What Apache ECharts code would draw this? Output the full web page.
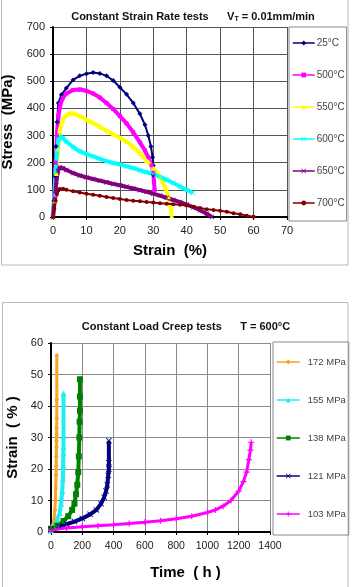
<!DOCTYPE html>
<html>
<head>
<meta charset="utf-8">
<script src="https://cdn.jsdelivr.net/npm/echarts@6/dist/echarts.min.js"></script>
<style>
  html, body { margin: 0; padding: 0; background: #fff; }
  #chart { width: 353px; height: 587px; }
</style>
</head>
<body>
<div id="chart"></div>
<script>
// top chart: stress vs strain, [strain %, stress MPa]
const tempNames = ["25°C", "500°C", "550°C", "600°C", "650°C", "700°C"];
const t25 = [[0,0],[0.3,60],[0.6,150],[0.9,260],[1.2,350],[1.6,420],[2.5,450],[4,475],[6,505],[8,520],[10,528],[12,532],[14,529],[16,520],[18,503],[20,478],[22,452],[24,420],[26,380],[27.5,340],[28.5,300],[29.3,260],[29.8,220],[30,190],[30,155]];
const t500 = [[0,0],[0.4,80],[0.8,200],[1.2,300],[1.6,370],[2.2,415],[3,440],[4,455],[6,468],[8,470],[10,465],[12,455],[14,440],[16,420],[18,398],[20,372],[22,345],[24,312],[26,275],[27.5,245],[28.5,220],[29.5,190],[30,165],[30.2,130],[30.4,100]];
const t550 = [[0,0],[0.5,60],[1,160],[1.5,250],[2,320],[3,360],[4,375],[5,382],[6,382],[8,372],[10,358],[12,346],[14,333],[16,318],[18,305],[20,292],[22,278],[24,258],[26,235],[28,208],[30,180],[32,148],[33.5,110],[34.5,75],[35.3,30],[35.5,5]];
const t600 = [[0,0],[0.4,80],[0.8,170],[1.2,240],[1.6,285],[2,298],[3,290],[4,278],[6,258],[8,242],[10,232],[12,223],[14,214],[16,206],[18,199],[20,194],[22,187],[24,180],[26,172],[28,165],[30,158],[32,148],[34,137],[36,125],[38,112],[40,100],[41.8,88]];
const t650 = [[0,0],[0.5,60],[1,130],[1.5,170],[2,183],[3,180],[4,173],[6,162],[8,153],[10,146],[12,140],[14,134],[16,128],[18,122],[20,117],[22,111],[24,105],[26,99],[28,93],[30,86],[32,79],[34,71],[36,63],[38,55],[40,46],[42,36],[44,25],[46,12],[47.5,0]];
const t700 = [[0,0],[0.4,30],[0.8,60],[1.2,85],[1.6,98],[2,103],[3,104],[4,100],[6,95],[8,90],[10,86],[12,82],[14,78],[16,74],[18,70],[20,66],[22,63],[24,60],[26,58],[28,55],[30,53],[32,51],[34,49],[36,47],[38,45],[40,42],[42,38],[44,33],[46,29],[48,26],[50,23],[52,19],[54,14],[56,10],[58,5],[60,1]];
const strainTicks = [0, 70, 10];
const stressTicks = [0, 700, 100];

// bottom chart: creep strain vs time, [time h, strain %]
const loadNames = ["172 MPa", "155 MPa", "138 MPa", "121 MPa", "103 MPa"];
const c172 = [[0,0.5],[10,2],[20,4],[25,7],[28,10],[30,14],[32,18],[33,21],[34,24],[35,27],[35,29],[36,31],[36,33],[37,36],[37,42],[37,56]];
const c155 = [[0,0.5],[20,2],[40,4],[55,6],[65,9],[72,13],[76,17],[78,21],[79,25],[80,27],[80,30.5],[80,44]];
const c138 = [[0,1],[40,2],[80,3.5],[110,5],[135,7],[150,9],[160,12],[168,15],[174,19],[178,24],[181,30],[183,35],[185,38.5],[185,43],[185,48.5]];
const c121 = [[0,1],[50,1.8],[100,2.5],[150,3.3],[200,4.3],[250,5.6],[290,7],[320,9],[340,11],[352,13],[360,15],[366,18],[370,20],[370,22],[370,29]];
const c103 = [[0,0.5],[50,1],[100,1.3],[200,1.7],[300,2],[400,2.3],[500,2.7],[600,3.1],[700,3.6],[800,4.2],[900,5],[1000,6.2],[1050,7],[1100,8.2],[1150,10],[1200,13],[1230,16],[1250,19],[1265,23],[1275,26],[1280,28.5]];
const timeTicks = [0, 1400, 200];
const creepTicks = [0, 60, 10];

const FONT = "Liberation Sans, Arial, sans-serif";
const X_MARK = "path://M0,1L1,0L5,4L9,0L10,1L6,5L10,9L9,10L5,6L1,10L0,9L4,5Z";
const PLUS_MARK = "path://M4,0H6V4H10V6H6V10H4V6H0V4H4Z";

function line(name, data, color, symbol, width, size, idx) {
  return {
    name: name,
    type: "line",
    xAxisIndex: idx,
    yAxisIndex: idx,
    data: data,
    symbol: symbol,
    symbolSize: size,
    showAllSymbol: true,
    lineStyle: { color: color, width: width },
    itemStyle: { color: color },
    animation: false,
  };
}

function valAxis(ticks, gridIndex, extra) {
  return Object.assign({
    type: "value",
    gridIndex: gridIndex,
    min: ticks[0],
    max: ticks[1],
    interval: ticks[2],
    axisLine: { show: true, lineStyle: { color: "#000", width: 2 } },
    axisTick: { show: true, length: 3, lineStyle: { color: "#000" } },
    axisLabel: { color: "#222", fontSize: 11, fontFamily: FONT, formatter: (v) => String(v) },
    splitLine: { show: true, lineStyle: { color: "#555", width: 1 } },
    nameLocation: "middle",
    nameTextStyle: { color: "#000", fontSize: 15, fontWeight: "bold", fontFamily: FONT },
  }, extra);
}

const legendBase = {
  orient: "vertical",
  itemWidth: 22,
  itemHeight: 6,
  borderColor: "#888",
  borderWidth: 1,
  lineStyle: { width: 1.5 },
};

const chart = echarts.init(document.getElementById("chart"));
chart.setOption({
  backgroundColor: "#fff",
  graphic: [
    { type: "rect", shape: { x: 1.5, y: -2, width: 346.5, height: 267 }, style: { fill: "none", stroke: "#bbb", lineWidth: 1 }, z: -1 },
    { type: "rect", shape: { x: 2.5, y: 302.5, width: 345.5, height: 300 }, style: { fill: "none", stroke: "#bbb", lineWidth: 1 }, z: -1 },
  ],
  title: [
    {
      text: "Constant Strain Rate tests      V{sub|T} = 0.01mm/min",
      left: 188,
      top: 5,
      textAlign: "center",
      textStyle: {
        fontSize: 11, fontWeight: "bold", color: "#111", fontFamily: FONT,
        rich: { sub: { fontSize: 7, fontWeight: "bold", color: "#111", fontFamily: FONT, padding: [6, 0, 0, 0] } },
      },
    },
    {
      text: "Constant Load Creep tests      T = 600°C",
      left: 181,
      top: 316,
      textAlign: "center",
      textStyle: { fontSize: 11, fontWeight: "bold", color: "#111", fontFamily: FONT },
    },
  ],
  legend: [
    Object.assign({}, legendBase, {
      data: tempNames,
      left: 289,
      top: 27,
      padding: [11, 2, 13, 3],
      itemGap: 22,
      textStyle: { fontSize: 10, color: "#444", fontFamily: FONT, padding: [0, 0, 0, -3] },
    }),
    Object.assign({}, legendBase, {
      data: loadNames,
      left: 273,
      top: 342,
      padding: [15, 3, 16, 3],
      itemWidth: 23,
      itemGap: 28,
      textStyle: { fontSize: 9.5, color: "#444", fontFamily: FONT, padding: [0, 0, 0, 3] },
    }),
  ],
  grid: [
    { left: 53, top: 27, width: 234, height: 190, outerBoundsMode: "none", containLabel: false },
    { left: 51, top: 343, width: 219, height: 189, outerBoundsMode: "none", containLabel: false },
  ],
  xAxis: [
    valAxis(strainTicks, 0, { name: "Strain  (%)", nameGap: 26 }),
    valAxis(timeTicks, 1, {
      name: "Time  ( h )", nameGap: 33,
      axisLabel: { color: "#222", fontSize: 10.5, fontFamily: FONT, margin: 9, formatter: (v) => String(v) },
      splitLine: { show: true, lineStyle: { color: "#8a8a8a", width: 1 } },
      nameTextStyle: { color: "#000", fontSize: 15, fontWeight: "bold", fontFamily: FONT, padding: [0, 0, 0, 50] },
    }),
  ],
  yAxis: [
    valAxis(stressTicks, 0, { name: "Stress  (MPa)", nameGap: 33 }),
    valAxis(creepTicks, 1, {
      name: "Strain  ( % )", nameGap: 25,
      splitLine: { show: true, lineStyle: { color: "#8a8a8a", width: 1 } },
    }),
  ],
  series: [
    line("25°C", t25, "#000080", "diamond", 2, 5, 0),
    line("500°C", t500, "#FF00FF", "rect", 4, 4, 0),
    line("550°C", t550, "#FFFF00", "triangle", 4, 5, 0),
    line("600°C", t600, "#00FFFF", X_MARK, 4, 5, 0),
    line("650°C", t650, "#800080", X_MARK, 4, 5, 0),
    line("700°C", t700, "#800000", "circle", 2, 4, 0),
    line("172 MPa", c172, "#F5A623", "diamond", 3, 5, 1),
    line("155 MPa", c155, "#22EEEE", "triangle", 4, 6, 1),
    line("138 MPa", c138, "#008000", "rect", 4, 6, 1),
    line("121 MPa", c121, "#000080", X_MARK, 4, 6, 1),
    line("103 MPa", c103, "#FF00FF", PLUS_MARK, 3, 6, 1),
  ],
});
</script>
</body>
</html>
